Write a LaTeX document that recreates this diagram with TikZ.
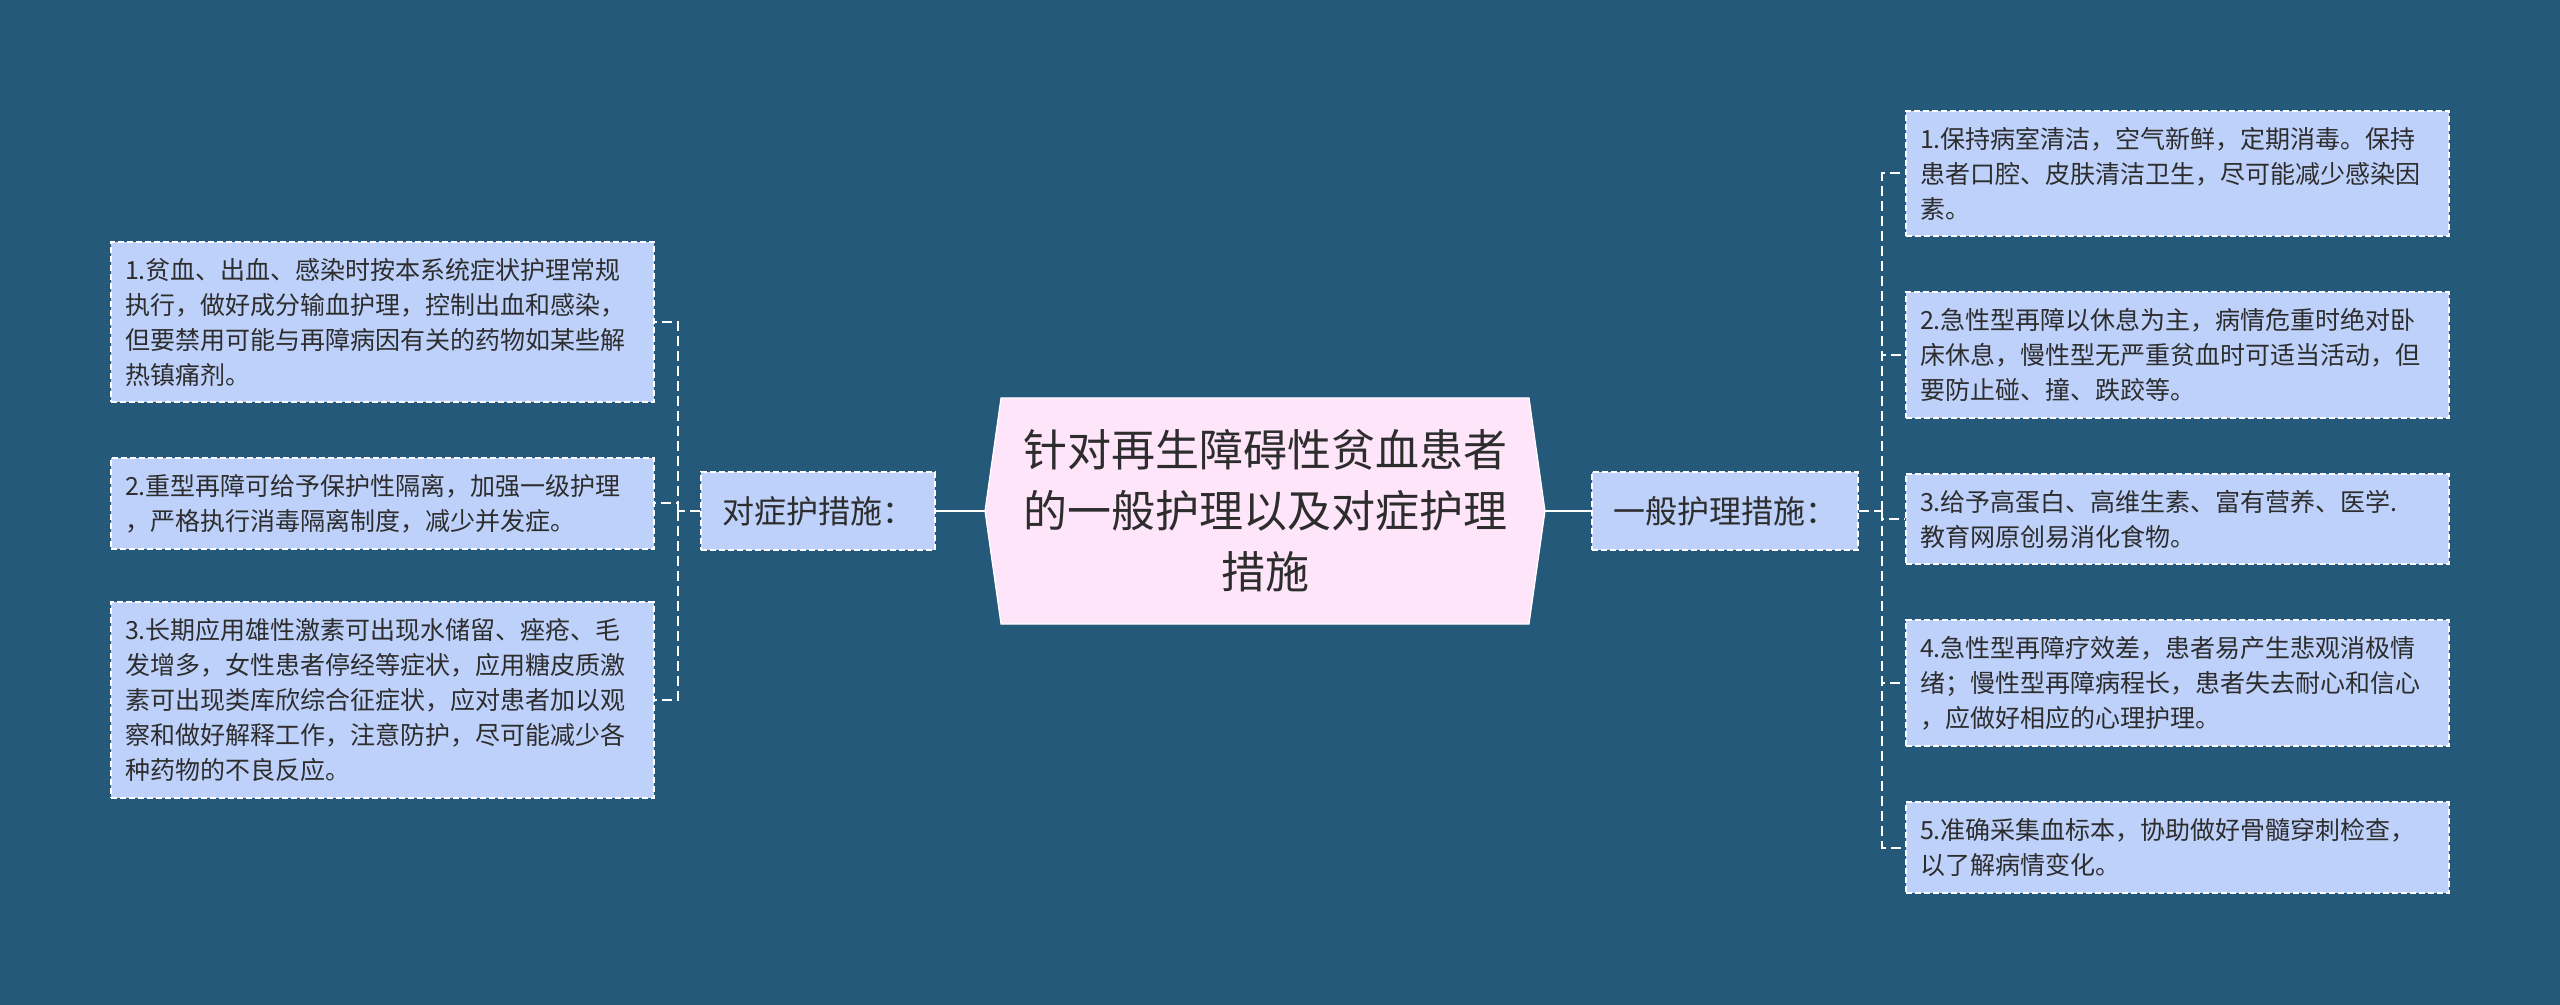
\documentclass[tikz,border=0pt]{standalone}
\usepackage{fontspec}
\setmainfont{Noto Sans CJK SC}
\usetikzlibrary{shapes}

\definecolor{bgblue}{RGB}{36,89,122}
\definecolor{boxblue}{RGB}{190,209,250}
\definecolor{rootpink}{RGB}{255,229,250}
\definecolor{inkgray}{RGB}{45,45,45}

\tikzset{
  leaf/.style={draw=white, dash pattern=on 3pt off 1.5pt, line width=0.9pt,
    fill=boxblue, text=inkgray, text width=257.5pt, inner xsep=7pt, inner ysep=8pt,
    align=left, font=\fontsize{12.5pt}{17.5pt}\selectfont},
  branch/.style={draw=white, dash pattern=on 3pt off 1.5pt, line width=0.9pt,
    fill=boxblue, text=inkgray, minimum height=39pt, font=\fontsize{16pt}{20pt}\selectfont},
  link/.style={draw=white, line width=1pt, dash pattern=on 5pt off 2.5pt},
  trunk/.style={draw=white, line width=1.2pt}
}

\begin{document}
\begin{tikzpicture}[x=0.5pt,y=-0.5pt]
        % draw background
        \fill[bgblue] (0,0) rectangle (2560,1005);
        \useasboundingbox (0,0) rectangle (2560,1005);
        % draw central shape
        \filldraw[fill=rootpink, draw=white, line width=0.6pt]
          (1001,398) -- (1529,398) -- (1545,511) -- (1529,624) -- (1001,624) -- (985,511) -- cycle;
        \node[text=inkgray, align=center, minimum width=280pt, font=\fontsize{22pt}{30.5pt}\selectfont]
          (root) at (1265,511) {针对再生障碍性贫血患者\\的一般护理以及对症护理\\措施};
        % draw branch nodes
        \node[branch, minimum width=117pt] (symp) at (818,511) {对症护措施：};
        \node[branch, minimum width=133pt] (gen) at (1725,511) {一般护理措施：};
        % draw left leaves
        \node[leaf] (s1) at (382.5,322) {1.贫血、出血、感染时按本系统症状护理常规\\执行，做好成分输血护理，控制出血和感染，\\但要禁用可能与再障病因有关的药物如某些解\\热镇痛剂。};
        \node[leaf] (s2) at (382.5,503.5) {2.重型再障可给予保护性隔离，加强一级护理\\，严格执行消毒隔离制度，减少并发症。};
        \node[leaf] (s3) at (382.5,700) {3.长期应用雄性激素可出现水储留、痤疮、毛\\发增多，女性患者停经等症状，应用糖皮质激\\素可出现类库欣综合征症状，应对患者加以观\\察和做好解释工作，注意防护，尽可能减少各\\种药物的不良反应。};
        % draw right leaves
        \node[leaf] (g1) at (2177.5,173.5) {1.保持病室清洁，空气新鲜，定期消毒。保持\\患者口腔、皮肤清洁卫生，尽可能减少感染因\\素。};
        \node[leaf] (g2) at (2177.5,355) {2.急性型再障以休息为主，病情危重时绝对卧\\床休息，慢性型无严重贫血时可适当活动，但\\要防止碰、撞、跌跤等。};
        \node[leaf] (g3) at (2177.5,519) {3.给予高蛋白、高维生素、富有营养、医学.\\教育网原创易消化食物。};
        \node[leaf] (g4) at (2177.5,683) {4.急性型再障疗效差，患者易产生悲观消极情\\绪；慢性型再障病程长，患者失去耐心和信心\\，应做好相应的心理护理。};
        \node[leaf] (g5) at (2177.5,847.5) {5.准确采集血标本，协助做好骨髓穿刺检查，\\以了解病情变化。};
        % draw connectors
        \coordinate (sfork) at (678,511);
        \coordinate (gfork) at (1882,511);
        \draw[trunk] (root.west) -- (symp.east);
        \draw[trunk] (root.east) -- (gen.west);
        \draw[link] (symp.west) -- (sfork);
        \draw[link] (gen.east) -- (gfork);
        \foreach \n in {s1, s2, s3}{
          \draw[link] (sfork) |- (\n.east);
        }
        \foreach \i in {1, 2, 3, 4, 5}{
          \draw[link] (gfork) |- (g\i.west);
        }
\end{tikzpicture}
\end{document}
